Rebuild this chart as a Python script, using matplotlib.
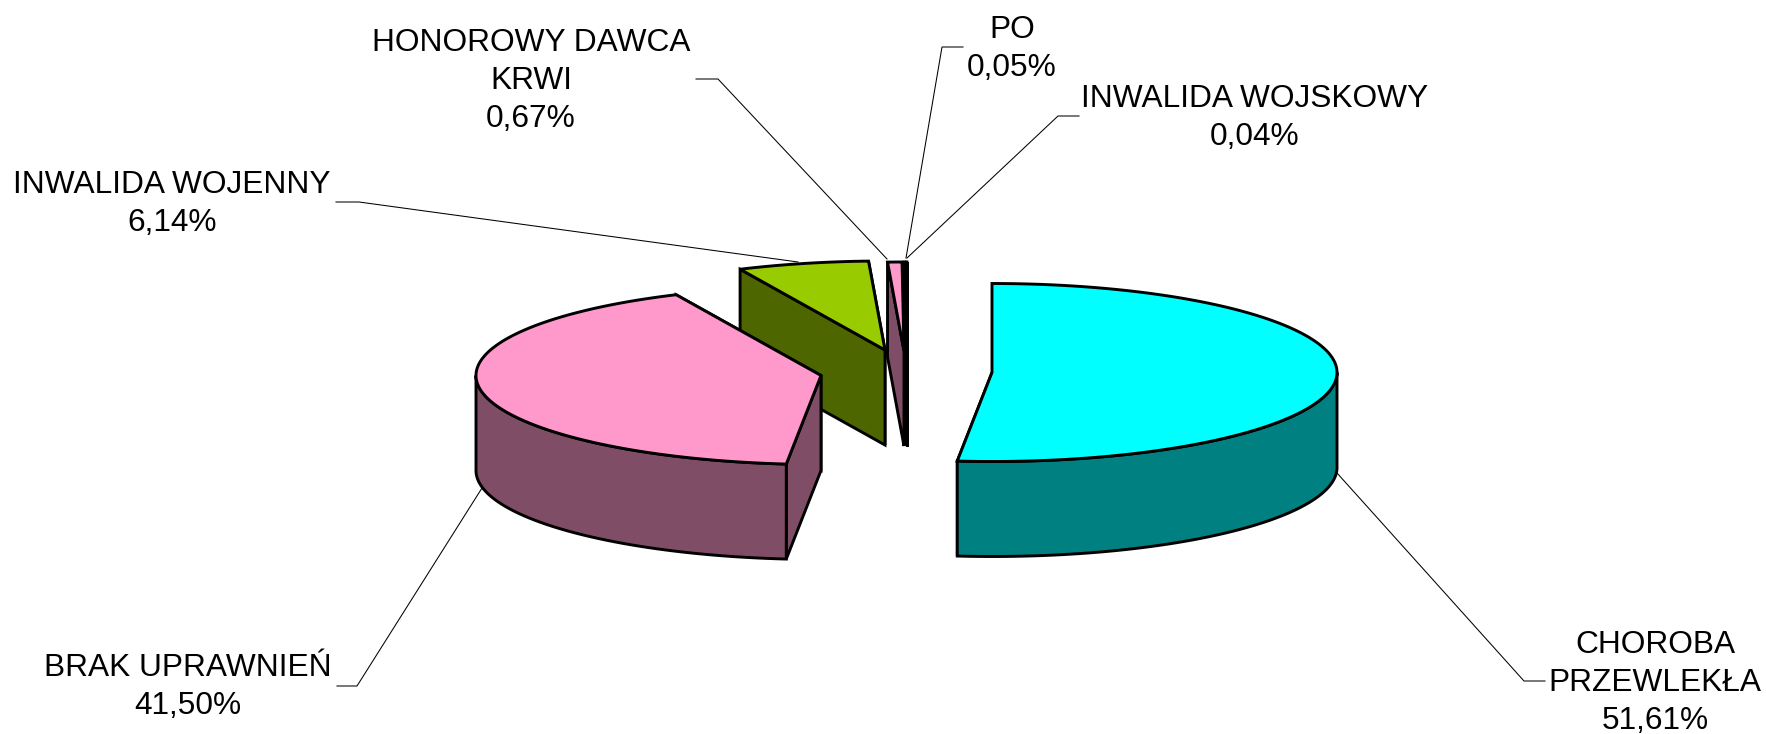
import numpy as np
import matplotlib
matplotlib.use("Agg")
import matplotlib.pyplot as plt
from matplotlib.patches import Polygon

plt.rcParams['font.family'] = ['Liberation Sans', 'DejaVu Sans']

# --- data ---
categories = ["CHOROBA\nPRZEWLEKŁA", "BRAK UPRAWNIEŃ", "INWALIDA WOJENNY",
              "HONOROWY DAWCA\nKRWI", "PO", "INWALIDA WOJSKOWY"]
shares = [51.61, 41.50, 6.14, 0.67, 0.05, 0.04]
value_labels = ["51,61%", "41,50%", "6,14%", "0,67%", "0,05%", "0,04%"]

# --- style / layout ---
top_colors = ["#00FFFF", "#FF99CC", "#99CC00", "#FF99CC", "#FF99CC", "#00FFFF"]
side_colors = ["#008080", "#804D66", "#4D6600", "#804D66", "#804D66", "#008080"]
apexes = [(992, 372.5), (821, 375.5), (885, 350), (904, 351), (906, 351), (907, 351)]
RX, RY, DEPTH = 345, 89, 95
EDGE_LW = 2.1
label_pos = [(1655, 729), (188, 714), (172, 231), (531, 127), (1012, 76), (1255, 145)]
leaders = [
    [(1337, 473), (1524, 681), (1545, 681)],
    [(482, 488), (357, 686), (337, 686)],
    [(798, 262), (359, 202), (336, 202)],
    [(887, 259), (718, 79), (696, 79)],
    [(906, 258), (942, 47), (963, 47)],
    [(907, 258), (1058, 116), (1079, 116)],
]

fig = plt.figure(figsize=(17.66, 7.34), dpi=100, facecolor="white")
ax = fig.add_axes([0, 0, 1, 1])
ax.set_xlim(0, 1766)
ax.set_ylim(734, 0)
ax.axis("off")


def rim(apex, th_deg, dy=0.0):
    th = np.radians(th_deg)
    return np.column_stack([apex[0] + RX * np.sin(th),
                            apex[1] - RY * np.cos(th) + dy])


def face(pts, color, z):
    ax.add_patch(Polygon(pts, closed=True, facecolor=color, edgecolor="black",
                         linewidth=EDGE_LW, joinstyle="miter", zorder=z))


total = sum(shares)
edges = np.concatenate([[0.0], np.cumsum(shares) / total * 360.0])
n = len(shares)

for i in range(n):
    a0, a1 = edges[i], edges[i + 1]
    apex = np.array(apexes[i], float)
    base_z = 10 * (n - i)
    # radial cut faces: far one first, near one on top of it
    for z_off, ang in ((0, a1), (1, a0)):
        p = rim(apex, [ang])[0]
        face([apex, p, p + [0, DEPTH], apex + [0, DEPTH]], side_colors[i], base_z + z_off)
    # outer wall (only the part turned towards the viewer)
    w0, w1 = max(a0, 90.0), min(a1, 270.0)
    if w1 > w0:
        th = np.linspace(w0, w1, 240)
        face(np.vstack([rim(apex, th), rim(apex, th[::-1], DEPTH)]), side_colors[i], base_z + 2)
    # top
    th = np.linspace(a0, a1, 360)
    face(np.vstack([[apex], rim(apex, th)]), top_colors[i], base_z + 3)

for pts in leaders:
    xs, ys = zip(*pts)
    ax.plot(xs, ys, color="black", lw=0.75, zorder=1, solid_joinstyle="miter")

for cat, val, (x, y) in zip(categories, value_labels, label_pos):
    ax.text(x, y, f"{cat}\n{val}", ha="center", va="baseline", ma="center",
            fontsize=22.8, color="black", linespacing=1.34, zorder=100)

fig.savefig("out.png", dpi=100, facecolor="white")
